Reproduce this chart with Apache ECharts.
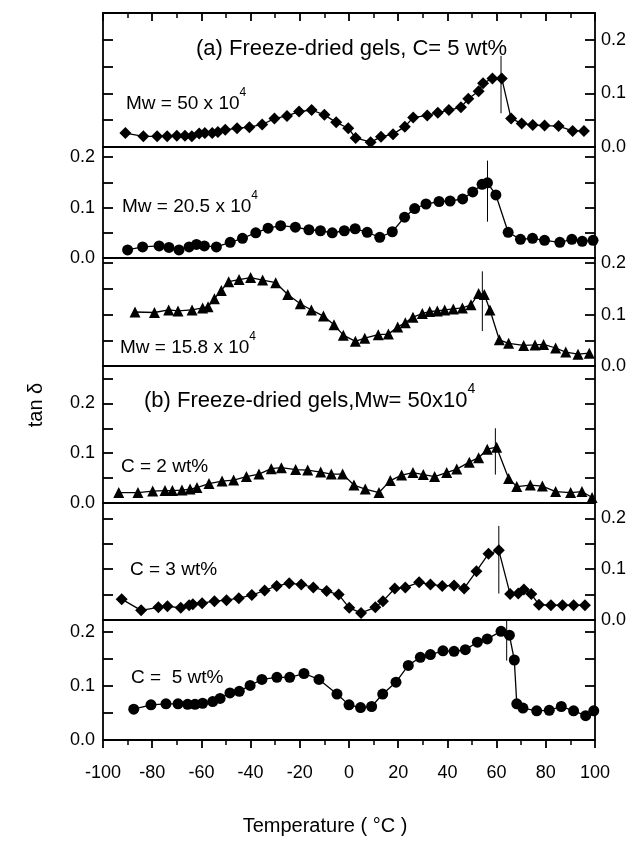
<!DOCTYPE html>
<html>
<head>
<meta charset="utf-8">
<script src="https://cdn.jsdelivr.net/npm/echarts@6/dist/echarts.min.js"></script>
<style>
html, body { margin: 0; padding: 0; background: #fff; }
#main { width: 632px; height: 841px; }
</style>
</head>
<body>
<div id="main"></div>
<script>
// (a) C = 5 wt%, three molecular weights
var tempMw50 = [-90.9,-83.6,-78.0,-73.9,-70.0,-66.7,-63.9,-60.9,-58.6,-55.6,-53.3,-50.3,-45.5,-40.5,-35.3,-30.3,-25.2,-20.3,-15.2,-10.0,-5.2,-0.3,2.7,8.8,13.0,17.9,22.7,26.1,31.8,36.1,40.6,45.5,48.5,52.7,54.5,58.3,62.1,65.9,70.2,74.7,79.5,85.2,90.9,95.5];
var tanMw50 = [0.026,0.020,0.020,0.020,0.021,0.021,0.020,0.025,0.026,0.026,0.028,0.032,0.035,0.037,0.042,0.053,0.058,0.066,0.069,0.060,0.046,0.035,0.017,0.009,0.019,0.024,0.038,0.055,0.059,0.064,0.069,0.074,0.090,0.104,0.119,0.128,0.128,0.053,0.044,0.041,0.040,0.039,0.030,0.030];

var tempMw205 = [-90.0,-83.9,-77.2,-73.2,-69.1,-65.0,-62.0,-58.8,-53.9,-48.3,-43.3,-37.9,-32.9,-27.8,-21.8,-16.3,-11.6,-6.8,-1.9,2.5,7.4,12.5,17.6,22.6,26.7,31.3,36.6,41.1,46.2,50.3,54.1,56.3,59.7,64.7,69.7,74.6,79.5,85.7,90.6,94.8,99.2];
var tanMw205 = [0.016,0.022,0.024,0.021,0.016,0.022,0.027,0.024,0.022,0.031,0.039,0.050,0.059,0.064,0.061,0.056,0.054,0.050,0.054,0.058,0.051,0.041,0.052,0.081,0.098,0.107,0.112,0.113,0.117,0.131,0.146,0.149,0.125,0.051,0.037,0.039,0.035,0.031,0.037,0.033,0.035];

var tempMw158 = [-87.0,-79.1,-73.3,-69.5,-63.8,-59.5,-57.3,-54.7,-51.9,-48.9,-44.7,-40.0,-35.1,-29.8,-24.9,-19.8,-15.3,-10.4,-6.1,-2.3,2.6,6.4,11.9,16.0,19.8,22.9,26.0,29.8,32.8,35.9,38.9,42.4,46.1,49.6,52.7,55.0,57.3,61.1,64.9,71.0,75.6,79.1,84.0,88.1,93.1,97.7];
var tanMw158 = [0.105,0.104,0.109,0.107,0.109,0.113,0.115,0.131,0.147,0.164,0.168,0.172,0.167,0.162,0.139,0.121,0.109,0.097,0.080,0.060,0.048,0.054,0.061,0.062,0.076,0.084,0.095,0.102,0.106,0.107,0.109,0.111,0.113,0.119,0.141,0.139,0.109,0.051,0.044,0.040,0.041,0.042,0.035,0.027,0.023,0.025];

// (b) Mw = 50x10^4, three concentrations
var tempC2 = [-93.6,-85.8,-79.8,-74.8,-71.8,-67.9,-64.6,-61.8,-56.9,-51.6,-46.9,-41.7,-36.6,-31.6,-27.5,-21.7,-16.8,-11.5,-7.2,-2.6,2.0,6.6,12.2,16.8,21.4,26.0,30.2,34.8,39.7,43.8,48.9,52.7,56.2,60.0,64.9,68.2,73.7,78.6,84.0,90.1,94.7,98.8];
var tanC2 = [0.021,0.021,0.024,0.025,0.025,0.026,0.028,0.031,0.039,0.044,0.046,0.053,0.058,0.069,0.071,0.067,0.066,0.062,0.058,0.058,0.036,0.028,0.021,0.045,0.056,0.061,0.057,0.053,0.061,0.068,0.082,0.091,0.108,0.112,0.049,0.033,0.036,0.034,0.023,0.021,0.023,0.011];

var tempC3 = [-92.4,-84.5,-77.5,-73.8,-68.4,-65.0,-63.5,-59.7,-54.7,-49.8,-44.8,-39.5,-34.3,-29.4,-24.3,-19.4,-14.5,-9.1,-4.2,0.1,4.9,10.7,13.8,18.6,22.9,28.5,33.1,37.9,42.7,46.8,51.8,56.7,60.9,65.5,68.8,71.1,74.1,77.2,82.1,86.8,91.3,95.9];
var tanC3 = [0.041,0.019,0.025,0.027,0.024,0.029,0.031,0.033,0.037,0.039,0.043,0.049,0.058,0.067,0.072,0.070,0.064,0.057,0.050,0.024,0.014,0.025,0.037,0.062,0.064,0.074,0.070,0.067,0.068,0.062,0.096,0.130,0.137,0.051,0.052,0.060,0.051,0.030,0.029,0.029,0.029,0.029];

var tempC5 = [-87.5,-80.5,-74.4,-69.5,-65.6,-62.6,-59.5,-55.4,-52.4,-48.4,-44.6,-40.2,-35.4,-29.3,-24.1,-18.3,-12.2,-4.9,0.0,4.7,9.2,13.7,19.1,24.1,29.0,33.1,38.2,42.7,47.3,52.2,56.2,61.8,65.2,67.2,68.2,70.7,76.3,81.4,86.3,91.3,96.2,99.5];
var tanC5 = [0.057,0.065,0.067,0.067,0.066,0.066,0.068,0.071,0.077,0.087,0.090,0.101,0.112,0.116,0.116,0.123,0.112,0.085,0.065,0.060,0.062,0.085,0.107,0.138,0.153,0.158,0.165,0.164,0.167,0.181,0.187,0.201,0.194,0.148,0.067,0.059,0.054,0.055,0.062,0.054,0.045,0.054];

// thin vertical marks at the peak, one per panel (temperature, lower end, upper end)
var tmTemp = [61.8, 56.3, 54.2, 59.5, 60.9, 64.1];
var tmLow = [0.063, 0.072, 0.068, 0.057, 0.052, 0.147];
var tmHigh = [0.170, 0.193, 0.184, 0.150, 0.185, 0.222];

var xTicks = [-100, -80, -60, -40, -20, 0, 20, 40, 60, 80, 100];
var yLabels = [0.0, 0.1, 0.2];

// layout of the six stacked panels
var panelTop = [13, 147, 258, 366, 503, 620];
var panelHeight = [134, 111, 108, 137, 117, 120];
var panelMax = [0.25, 0.22, 0.21, 0.275, 0.23, 0.222];
var labelSide = ['right', 'left', 'right', 'left', 'right', 'left'];

var panels = [
  {temp: tempMw50, tan: tanMw50, symbol: 'diamond', size: 12},
  {temp: tempMw205, tan: tanMw205, symbol: 'circle', size: 11},
  {temp: tempMw158, tan: tanMw158, symbol: 'triangle', size: 11},
  {temp: tempC2, tan: tanC2, symbol: 'triangle', size: 11},
  {temp: tempC3, tan: tanC3, symbol: 'diamond', size: 12},
  {temp: tempC5, tan: tanC5, symbol: 'circle', size: 11}
];

var FONT = '"Liberation Sans", Arial, Helvetica, sans-serif';
var myChart = echarts.init(document.getElementById('main'), null, {renderer: 'canvas'});

var grids = [], xAxes = [], yAxes = [], series = [];

function yFormatter(v) {
  for (var k = 0; k < yLabels.length; k++) {
    if (Math.abs(v - yLabels[k]) < 1e-6) return yLabels[k].toFixed(1);
  }
  return '';
}

panels.forEach(function (p, i) {
  grids.push({
    left: 103, right: 37, top: panelTop[i], height: panelHeight[i],
    show: true, borderColor: '#000', borderWidth: 1.8, backgroundColor: 'transparent'
  });

  var isTop = i === 0, isBottom = i === panels.length - 1;
  xAxes.push({
    gridIndex: i, type: 'value', min: xTicks[0], max: xTicks[xTicks.length - 1], interval: 20,
    position: isTop ? 'top' : 'bottom',
    axisLine: {show: false, onZero: false},
    splitLine: {show: false},
    axisTick: {show: isTop || isBottom, inside: isTop, length: 8, lineStyle: {color: '#000', width: 1.8}},
    minorTick: {show: isTop || isBottom, splitNumber: 2, length: 5, lineStyle: {color: '#000', width: 1.5}},
    axisLabel: {
      show: isBottom, margin: 24, color: '#000', fontSize: 18, fontFamily: FONT,
      formatter: function (v) { return xTicks.indexOf(v) >= 0 ? String(v) : ''; }
    }
  });

  ['left', 'right'].forEach(function (side) {
    yAxes.push({
      gridIndex: i, type: 'value', position: side, min: 0, max: panelMax[i], interval: 0.05,
      axisLine: {show: false, onZero: false},
      splitLine: {show: false},
      axisTick: {show: true, inside: true, length: 10, lineStyle: {color: '#000', width: 1.8}},
      axisLabel: {
        show: labelSide[i] === side, margin: side === 'left' ? 8 : 6,
        color: '#000', fontSize: 18, fontFamily: FONT, showMaxLabel: false,
        formatter: yFormatter
      }
    });
  });

  series.push({
    type: 'line', xAxisIndex: i, yAxisIndex: i * 2,
    data: p.temp.map(function (t, j) { return [t, p.tan[j]]; }),
    symbol: p.symbol, symbolSize: p.size,
    itemStyle: {color: '#000'},
    lineStyle: {color: '#000', width: 1.3},
    z: 3
  });
  series.push({
    type: 'line', xAxisIndex: i, yAxisIndex: i * 2,
    data: [[tmTemp[i], tmLow[i]], [tmTemp[i], tmHigh[i]]],
    showSymbol: false, symbol: 'none',
    lineStyle: {color: '#000', width: 1},
    z: 2
  });
});

function supText(x, y, base, sup, size) {
  return {
    type: 'text', x: x, y: y, z: 10,
    style: {
      text: '{a|' + base + '}' + (sup ? '{s|' + sup + '}' : ''),
      fill: '#000', verticalAlign: 'middle',
      rich: {
        a: {fontSize: size, fontFamily: FONT, lineHeight: size + 8, verticalAlign: 'bottom', fill: '#000'},
        s: {fontSize: Math.round(size * 0.65), fontFamily: FONT, lineHeight: size + 8, verticalAlign: 'top', fill: '#000'}
      }
    }
  };
}

var graphics = [
  supText(196, 45, '(a) Freeze-dried gels, C= 5 wt%', '', 22),
  supText(126, 100, 'Mw = 50 x 10', '4', 19),
  supText(122, 203, 'Mw = 20.5 x 10', '4', 19),
  supText(120, 344, 'Mw = 15.8 x 10', '4', 19),
  supText(144, 397, '(b) Freeze-dried gels,Mw= 50x10', '4', 22),
  supText(121, 463, 'C = 2 wt%', '', 19),
  supText(130, 566, 'C = 3 wt%', '', 19),
  supText(131, 674, 'C =  5 wt%', '', 19),
  {
    type: 'text', x: 36, y: 405, rotation: Math.PI / 2, z: 10,
    style: {text: 'tan \u03b4', fill: '#000', font: '20px ' + FONT, align: 'center', verticalAlign: 'middle'}
  },
  {
    type: 'text', x: 325, y: 826, z: 10,
    style: {text: 'Temperature ( \u00b0C )', fill: '#000', font: '20px ' + FONT, align: 'center', verticalAlign: 'middle'}
  }
];

var option = {
  animation: false,
  backgroundColor: '#fff',
  grid: grids,
  xAxis: xAxes,
  yAxis: yAxes,
  series: series,
  graphic: graphics
};
myChart.setOption(option);
</script>
</body>
</html>
